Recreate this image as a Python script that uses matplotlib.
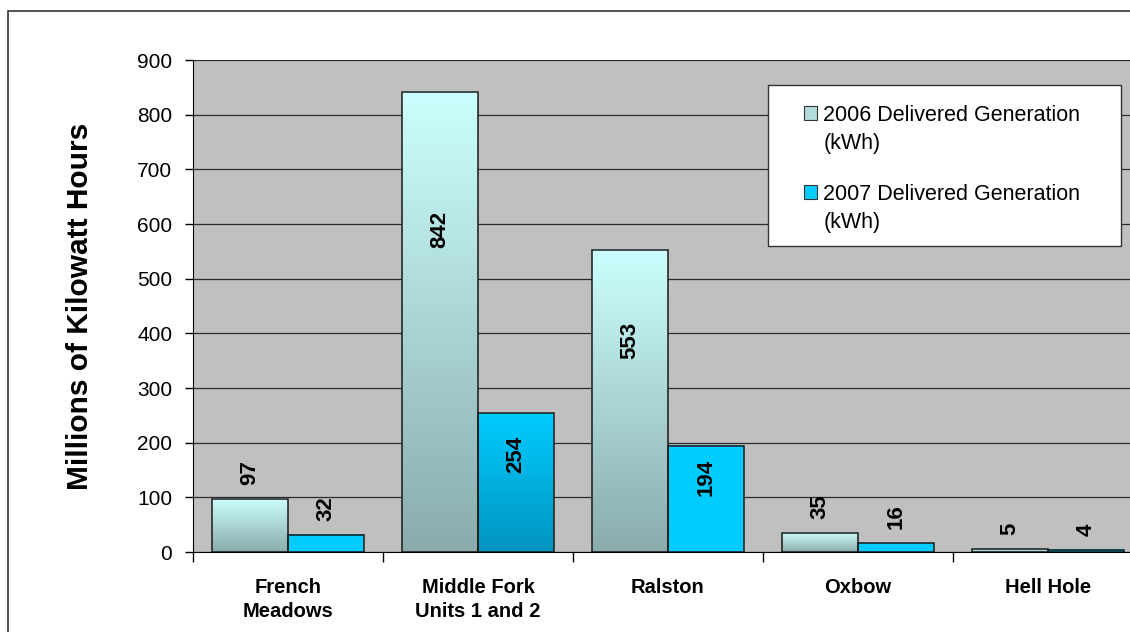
import numpy as np
import matplotlib
matplotlib.use('Agg')
import matplotlib.pyplot as plt
from matplotlib.colors import LinearSegmentedColormap
from matplotlib.patches import Patch, Rectangle
from matplotlib.legend_handler import HandlerPatch

# data (millions of kWh)
plants = ['French\nMeadows', 'Middle Fork\nUnits 1 and 2', 'Ralston', 'Oxbow', 'Hell Hole']
gen_2006 = [97, 842, 553, 35, 5]
gen_2007 = [32, 254, 194, 16, 4]
series_names = ['2006 Delivered Generation\n(kWh)', '2007 Delivered Generation\n(kWh)']
y_ticks = [0, 100, 200, 300, 400, 500, 600, 700, 800, 900]

plt.rcParams['font.family'] = ['Liberation Sans', 'DejaVu Sans']

# colours (top, bottom) of the gradient fills
c2006 = ('#CCFFFF', '#8AABAB')
c2007 = ('#00CCFF', '#00CCFF')
c2007_dark = ('#00CCFF', '#0094BE')   # the Middle Fork 2007 bar is shaded
shade_2007 = [False, True, False, False, False]


def gradient_fill(ax, bar, top, bottom):
    cmap = LinearSegmentedColormap.from_list('g', [bottom, top])
    grad = np.linspace(0, 1, 256).reshape(-1, 1)
    x, w, h = bar.get_x(), bar.get_width(), bar.get_height()
    ax.imshow(grad, extent=(x, x + w, 0, h), origin='lower', cmap=cmap,
              aspect='auto', zorder=2, interpolation='bilinear')


def add_labels(ax, bars, values):
    for b, v in zip(bars, values):
        cx = b.get_x() + b.get_width() / 2
        if v > 150:
            ax.text(cx, v * 0.7, str(v), rotation=90, ha='center', va='center',
                    fontsize=16, fontweight='bold', zorder=5)
        else:
            ax.annotate(str(v), (cx, v), xytext=(0, 10), textcoords='offset points',
                        rotation=90, ha='center', va='bottom',
                        fontsize=16, fontweight='bold', zorder=5)


def top_line_patch(legend, orig_handle, xdescent, ydescent, width, height, fontsize):
    # put the square next to the first line of a two line label
    return Rectangle((-xdescent, -ydescent + 0.8 * fontsize), width, height)


fig = plt.figure(figsize=(11.3, 6.32), dpi=100)
ax = fig.add_axes([193 / 1130, 80 / 632, 950 / 1130, 492 / 632])
ax.set_facecolor('#C0C0C0')

x = np.arange(len(plants))
w = 0.4
bars06 = ax.bar(x - w / 2, gen_2006, w, facecolor='none', edgecolor='#1a1a1a', lw=1.1, zorder=3)
bars07 = ax.bar(x + w / 2, gen_2007, w, facecolor='none', edgecolor='#1a1a1a', lw=1.1, zorder=3)
for b in bars06:
    gradient_fill(ax, b, *c2006)
for b, s in zip(bars07, shade_2007):
    gradient_fill(ax, b, *(c2007_dark if s else c2007))

add_labels(ax, bars06, gen_2006)
add_labels(ax, bars07, gen_2007)

ax.set_xlim(-0.5, len(plants) - 0.5)
ax.set_ylim(0, 900)
ax.set_yticks(y_ticks)
ax.yaxis.grid(True, color='#2b2b2b', lw=0.9)
ax.set_axisbelow(True)
ax.tick_params(axis='y', direction='out', length=6, width=1, pad=9, labelsize=15)

ax.set_xticks(x)
ax.set_xticklabels(plants, fontsize=14.5, fontweight='bold', linespacing=1.3)
ax.tick_params(axis='x', length=0, pad=19)
ax.set_xticks(np.arange(len(plants) + 1) - 0.5, minor=True)
ax.tick_params(axis='x', which='minor', direction='out', length=7, width=1)

for s in ['top', 'right']:
    ax.spines[s].set_visible(False)
ax.spines['left'].set_color('black')
ax.spines['bottom'].set_color('black')

ax.set_ylabel('Millions of Kilowatt Hours', fontsize=21.5, fontweight='bold')
ax.yaxis.set_label_coords(-0.104, 0.5)

# legend with its own frame
ax.add_patch(Rectangle((0.605, 0.622), 0.372, 0.327, transform=ax.transAxes,
                       facecolor='white', edgecolor='#333333', lw=1, zorder=6))
handles = [Patch(facecolor='#B3DCDC', edgecolor='#333333', lw=0.8),
           Patch(facecolor=c2007[0], edgecolor='#333333', lw=0.8)]
leg = ax.legend(handles, series_names, loc='upper left', bbox_to_anchor=(0.643, 0.908),
                frameon=False, fontsize=15.5, borderpad=0, borderaxespad=0,
                handlelength=0.6, handleheight=0.6, handletextpad=0.3, labelspacing=1.38,
                handler_map={Patch: HandlerPatch(patch_func=top_line_patch)})
for t in leg.get_texts():
    t.set_linespacing(1.45)
leg.set_zorder(7)

# outer chart border
fig.add_artist(Rectangle((8 / 1130, -0.1), 1.2, 1.1 - 11 / 632, transform=fig.transFigure,
                         facecolor='none', edgecolor='#333333', lw=1.2))

fig.savefig('out.png', dpi=100)
